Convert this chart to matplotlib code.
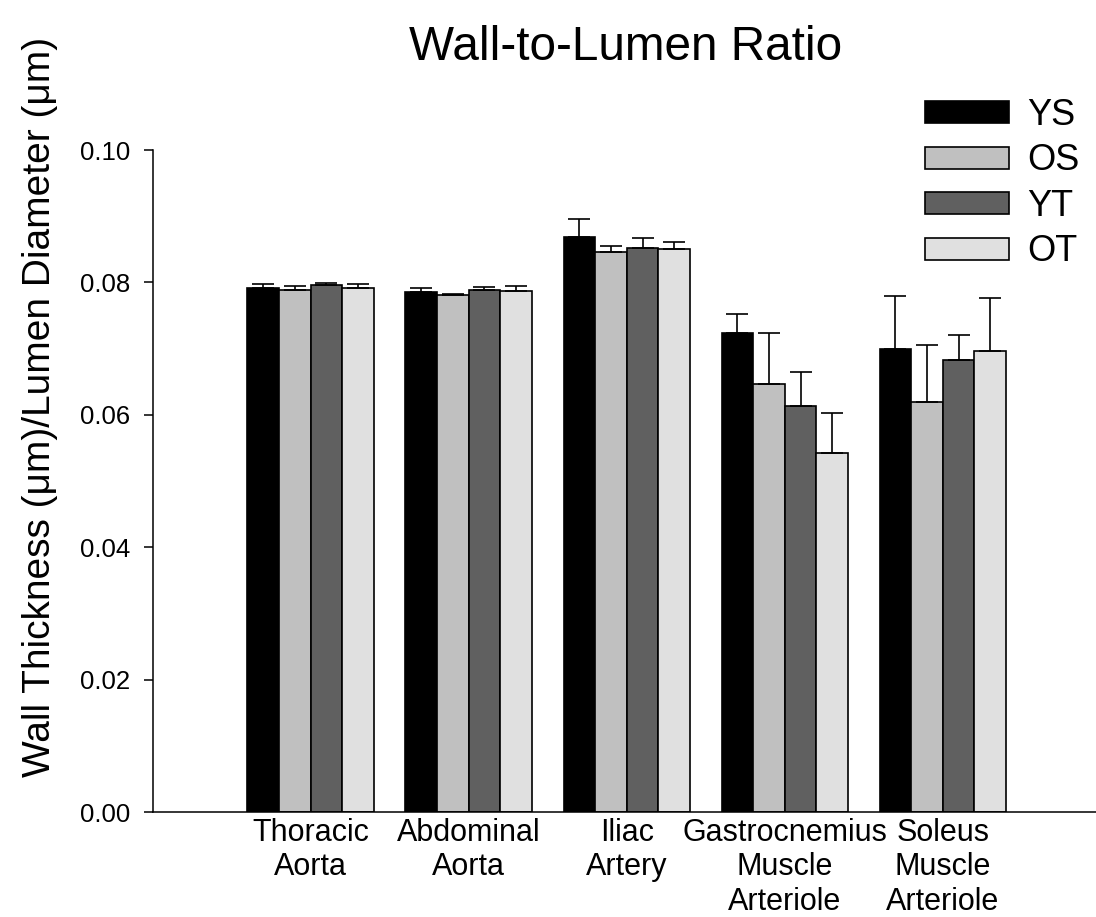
import numpy as np
import matplotlib
matplotlib.use("Agg")
import matplotlib.pyplot as plt
from matplotlib.patches import Patch
from matplotlib.ticker import FormatStrFormatter

plt.rcParams['font.family'] = ['Liberation Sans', 'DejaVu Sans']

categories = ["Thoracic\nAorta", "Abdominal\nAorta", "Iliac\nArtery",
              "Gastrocnemius\nMuscle\nArteriole", "Soleus\nMuscle\nArteriole"]
groups = ["YS", "OS", "YT", "OT"]

YS = [0.0792, 0.0786, 0.0869, 0.0724, 0.0699]
OS = [0.0789, 0.0781, 0.0846, 0.0646, 0.0619]
YT = [0.0796, 0.0788, 0.0852, 0.0614, 0.0683]
OT = [0.0792, 0.0787, 0.0850, 0.0543, 0.0696]

YS_sem = [0.0005, 0.0005, 0.0027, 0.0028, 0.0080]
OS_sem = [0.0005, 0.0002, 0.0009, 0.0077, 0.0087]
YT_sem = [0.0003, 0.0005, 0.0015, 0.0051, 0.0038]
OT_sem = [0.0005, 0.0008, 0.0011, 0.0060, 0.0080]

means = [YS, OS, YT, OT]
sems = [YS_sem, OS_sem, YT_sem, OT_sem]
colors = ["#000000", "#c0c0c0", "#606060", "#e0e0e0"]

fig = plt.figure(figsize=(10.96, 9.17), dpi=100)
ax = fig.add_axes([0.1393, 0.1145, 0.8607, 0.7219])

centers = np.arange(1, len(categories) + 1)
width = 0.2
offsets = (np.arange(len(groups)) - 1.5) * width

for vals, err, col, off in zip(means, sems, colors, offsets):
    x = centers + off
    ax.bar(x, vals, width=width, color=col, edgecolor="black", linewidth=1.2, zorder=2)
    ax.errorbar(x, vals, yerr=[np.zeros(len(vals)), err], fmt="none",
                ecolor="black", elinewidth=1.2, capsize=8, capthick=1.2, zorder=3)

ax.set_xlim(0, 5.97)
ax.set_ylim(0, 0.10)
ax.set_yticks(np.arange(0, 0.101, 0.02))
ax.yaxis.set_major_formatter(FormatStrFormatter('%.2f'))
ax.set_xticks(centers)
ax.set_xticklabels(categories, fontsize=22, linespacing=1.2)
ax.tick_params(axis='x', length=0, pad=4)
ax.tick_params(axis='y', length=6.5, width=1.1, labelsize=18.5, pad=10)

for s in ("top", "right"):
    ax.spines[s].set_visible(False)
for s in ("left", "bottom"):
    ax.spines[s].set_linewidth(1.1)

fig.text(40 / 1096, 1 - 407 / 917, "Wall Thickness (μm)/Lumen Diameter (μm)",
         rotation=90, ha="center", va="center", fontsize=28)
fig.text(626 / 1096, 1 - 48 / 917, "Wall-to-Lumen Ratio",
         ha="center", va="center", fontsize=34.4)

handles = [Patch(facecolor=c, edgecolor="black", linewidth=1.2) for c in colors]
fig.legend(handles, groups, loc="upper left",
           bbox_to_anchor=(925 / 1096, 1 - 98 / 917), frameon=False,
           fontsize=26, handlelength=2.33, handleheight=0.55,
           handletextpad=0.5, labelspacing=0.29, borderpad=0, borderaxespad=0)

fig.savefig("out.png", dpi=100)
